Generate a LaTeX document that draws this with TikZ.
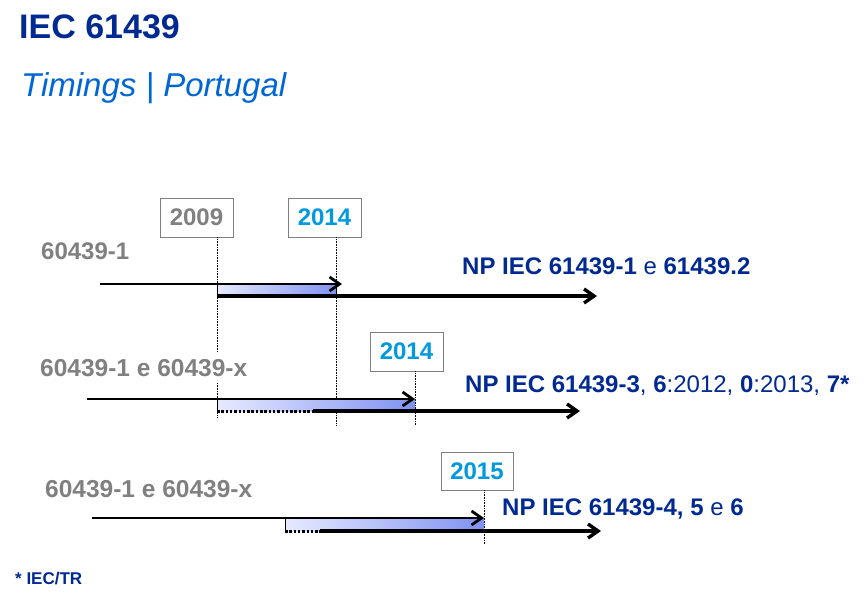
\documentclass[tikz,border=0pt]{standalone}
\usepackage{fontspec}
\setmainfont{Liberation Sans}
\usepackage{xcolor}
\usepackage{tikz}
\usetikzlibrary{arrows.meta}
\definecolor{titleblue}{RGB}{0,42,145}
\definecolor{subblue}{RGB}{0,102,214}
\definecolor{yearblue}{RGB}{0,153,222}
\definecolor{labelgray}{RGB}{128,128,128}
\definecolor{barlight}{RGB}{230,234,255}
\definecolor{bardark}{RGB}{128,146,242}
\tikzset{>={Straight Barb[length=10pt,width=14pt]}}
\tikzset{
  yearbox/.style={draw=labelgray,line width=0.8pt,fill=white,minimum width=73,minimum height=39,inner sep=0pt,font=\fontsize{24}{24}\selectfont\bfseries},
  oldlabel/.style={anchor=base west,inner xsep=0pt,inner ysep=6pt,fill=white,text=labelgray},
  nplabel/.style={anchor=base west,inner sep=0pt,text=titleblue,font=\fontsize{24}{24}\selectfont},
  marker/.style={densely dotted,line width=0.6pt},
  toparrow/.style={->,line width=2.8pt},
  botarrow/.style={->,line width=3.4pt},
  dotedge/.style={dash pattern=on 2.5pt off 1.8pt,line width=3pt},
  bar/.style={left color=barlight,right color=bardark},
}

\begin{document}
\begin{tikzpicture}[x=1pt,y=-1pt,line cap=butt]
	\fill[white] (0,0) rectangle (864,600);
	\useasboundingbox (0,0) rectangle (864,600);
	% headings
	\node[anchor=base west,inner sep=0pt,text=titleblue,font=\fontsize{34}{34}\selectfont\bfseries] (title) at (19,38) {IEC 61439};
	\node[anchor=base west,inner sep=0pt,text=subblue,font=\fontsize{33}{33}\selectfont\itshape] (subtitle) at (21,96) {Timings | Portugal};
	% year boxes
	\node[yearbox,text=labelgray] (y2009) at (196.5,217.5) {2009};
	\node[yearbox,text=yearblue] (y2014a) at (324.5,217.5) {2014};
	\node[yearbox,text=yearblue] (y2014b) at (406.5,351.5) {2014};
	\node[yearbox,text=yearblue,minimum width=72,minimum height=38] (y2015) at (477,471) {2015};
	% dotted time marks
	\coordinate (m2009) at (217,418);
	\coordinate (m2014a) at (336,425);
	\coordinate (m2014b) at (415,425);
	\coordinate (m2015) at (484,544);
	\draw[marker] (y2009.south -| m2009) -- (m2009);
	\draw[marker] (y2014a.south -| m2014a) -- (m2014a);
	\draw[marker] (y2014b.south -| m2014b) -- (m2014b);
	\draw[marker] (y2015.south -| m2015) -- (m2015);
	% row 1
	\coordinate (s1) at (100,284);
	\coordinate (e1) at (342,284);
	\coordinate (b1) at (217,296);
	\coordinate (f1) at (597,296);
	\fill[bar] (217,284) rectangle (336,296);
	\draw[line width=0.8pt] (217,284) -- (217,296) -- (336,296) -- (336,284);
	\draw[toparrow] (s1) -- (e1);
	\draw[botarrow] (b1) -- (f1);
	% row 2
	\coordinate (s2) at (87,399);
	\coordinate (e2) at (415,399);
	\coordinate (b2) at (313,411);
	\coordinate (f2) at (580,411);
	\fill[bar] (217,399) rectangle (415,411);
	\draw[line width=0.8pt] (217,399) -- (217,411);
	\draw[dotedge] (217,411) -- (b2);
	\draw[toparrow] (s2) -- (e2);
	\draw[botarrow] (b2) -- (f2);
	% row 3
	\coordinate (s3) at (92,518);
	\coordinate (e3) at (484,518);
	\coordinate (b3) at (320,531);
	\coordinate (f3) at (601,531);
	\fill[bar] (285,518) rectangle (484,531);
	\draw[line width=0.8pt] (285,518) -- (285,531);
	\draw[dotedge] (285,531) -- (b3);
	\draw[toparrow] (s3) -- (e3);
	\draw[botarrow] (b3) -- (f3);
	% labels
	\node[oldlabel,font=\fontsize{24}{24}\selectfont\bfseries] (old1) at (41,259) {60439-1};
	\node[oldlabel,font=\fontsize{24.5}{24.5}\selectfont\bfseries] (old2) at (40,376) {60439-1 e 60439-x};
	\node[oldlabel,font=\fontsize{24.5}{24.5}\selectfont\bfseries] (old3) at (45,497) {60439-1 e 60439-x};
	\node[nplabel] (np1) at (462,274) {\textbf{NP IEC 61439-1} e \textbf{61439.2}};
	\node[nplabel] (np2) at (465,392) {\textbf{NP IEC 61439-3}, \textbf{6}:2012, \textbf{0}:2013, \textbf{7*}};
	\node[nplabel] (np3) at (502,515) {\textbf{NP IEC 61439-4, 5} e \textbf{6}};
	\node[anchor=base west,inner sep=0pt,text=titleblue,font=\fontsize{17}{17}\selectfont\bfseries] (note) at (15,584) {* IEC/TR};
\end{tikzpicture}
\end{document}
